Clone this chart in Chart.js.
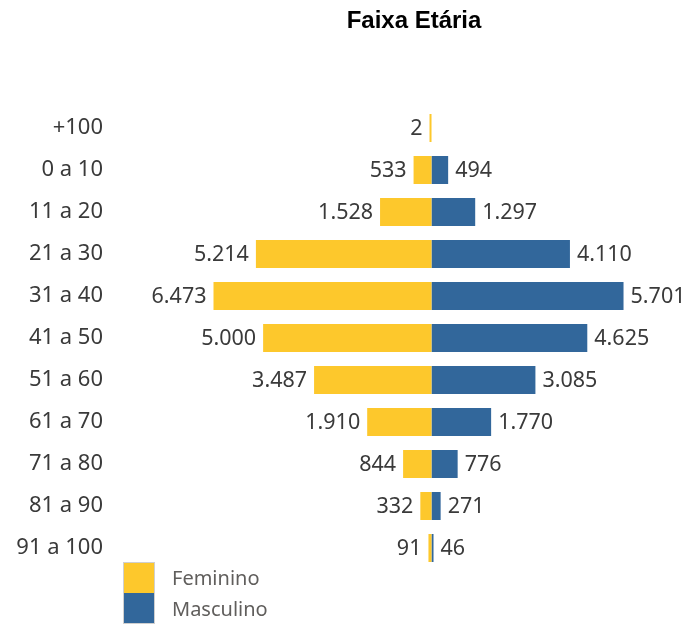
<!DOCTYPE html>
<html>
<head>
<meta charset="utf-8">
<script src="https://cdn.jsdelivr.net/npm/chart.js@4"></script>
<style>
     body { margin: 0; background: #fff; }
     #wrap { position: relative; width: 689px; height: 625px; }
     #legend { position: absolute; left: 123px; top: 562px; font-family: "Noto Sans", sans-serif; font-size: 20px; color: #605e5c; }
     #legend .item { display: flex; align-items: center; height: 31px; }
     #legend .box { width: 30px; height: 30px; border: 1px solid #cfcfcf; border-top: none; margin-right: 17px; }
     #legend .item:first-child .box { border-top: 1px solid #cfcfcf; height: 30px; }
</style>
</head>
<body>
<div id="wrap">
     <canvas id="myBarChart" width="689" height="625"></canvas>
     <div id="legend"></div>
</div>
<script>
// Data
var faixas = ['+100', '0 a 10', '11 a 20', '21 a 30', '31 a 40', '41 a 50', '51 a 60', '61 a 70', '71 a 80', '81 a 90', '91 a 100'];
var feminino = [2, 533, 1528, 5214, 6473, 5000, 3487, 1910, 844, 332, 91];
var masculino = [null, 494, 1297, 4110, 5701, 4625, 3085, 1770, 776, 271, 46];

var corFeminino = '#fdc82c';
var corMasculino = '#32679b';

// Helper to format numbers like 1.528
function formatNumber(n) {
     return String(Math.abs(n)).replace(/\B(?=(\d{3})+(?!\d))/g, '.');
}

// Plugin that writes the value beside each bar
var valueLabels = {
     id: 'valueLabels',
     afterDatasetsDraw: function (chart) {
          var ctx = chart.ctx;
          ctx.save();
          ctx.font = '21.5px "Noto Sans", sans-serif';
          ctx.fillStyle = '#3a3a3a';
          ctx.textBaseline = 'middle';
          chart.data.datasets.forEach(function (ds, i) {
               var meta = chart.getDatasetMeta(i);
               meta.data.forEach(function (bar, j) {
                    var v = ds.data[j];
                    if (v === null || v === undefined) return;
                    if (v < 0) {
                         ctx.textAlign = 'right';
                         ctx.fillText(formatNumber(v), Math.min(bar.x, bar.base) - 7, bar.y + 1);
                    } else {
                         ctx.textAlign = 'left';
                         ctx.fillText(formatNumber(v), Math.max(bar.x, bar.base) + 7, bar.y + 1);
                    }
               });
          });
          ctx.restore();
     }
};

function createAgeChart() {
     var ctx = document.getElementById('myBarChart').getContext('2d');
     window.myBarChart = new Chart(ctx, {
          type: 'bar',
          data: {
               labels: faixas,
               datasets: [{
                    label: 'Feminino',
                    data: feminino.map(function (v) { return v === null ? null : -v; }),
                    backgroundColor: corFeminino,
                    minBarLength: 2,
                    barPercentage: 0.667,
                    categoryPercentage: 1
               }, {
                    label: 'Masculino',
                    data: masculino,
                    backgroundColor: corMasculino,
                    minBarLength: 2,
                    barPercentage: 0.667,
                    categoryPercentage: 1
               }]
          },
          options: {
               indexAxis: 'y',
               responsive: false,
               animation: false,
               layout: {
                    padding: { left: 0, right: 0, top: 0, bottom: 56 }
               },
               scales: {
                    x: {
                         stacked: true,
                         display: false,
                         min: -8685,
                         max: 7645
                    },
                    y: {
                         stacked: true,
                         grid: { display: false, drawTicks: false },
                         border: { display: false },
                         ticks: {
                              padding: 36,
                              color: '#3a3a3a',
                              font: { family: '"Noto Sans", sans-serif', size: 22 }
                         },
                         afterFit: function (axis) {
                              axis.width = 139;
                         }
                    }
               },
               plugins: {
                    legend: { display: false },
                    tooltip: {
                         callbacks: {
                              label: function (item) {
                                   return item.dataset.label + ': ' + formatNumber(item.raw);
                              }
                         }
                    },
                    title: {
                         display: true,
                         text: 'Faixa Etária',
                         fullSize: false,
                         color: '#000',
                         font: { family: '"Liberation Sans", Arial, sans-serif', size: 24, weight: 'bold' },
                         padding: { top: 7, bottom: 71.2 }
                    }
               }
          },
          plugins: [valueLabels]
     });

     // HTML legend built from the datasets
     var legend = document.getElementById('legend');
     window.myBarChart.data.datasets.forEach(function (ds) {
          var item = document.createElement('div');
          item.className = 'item';
          var box = document.createElement('span');
          box.className = 'box';
          box.style.background = ds.backgroundColor;
          var txt = document.createElement('span');
          txt.textContent = ds.label;
          item.appendChild(box);
          item.appendChild(txt);
          legend.appendChild(item);
     });
}

createAgeChart();
</script>
</body>
</html>
